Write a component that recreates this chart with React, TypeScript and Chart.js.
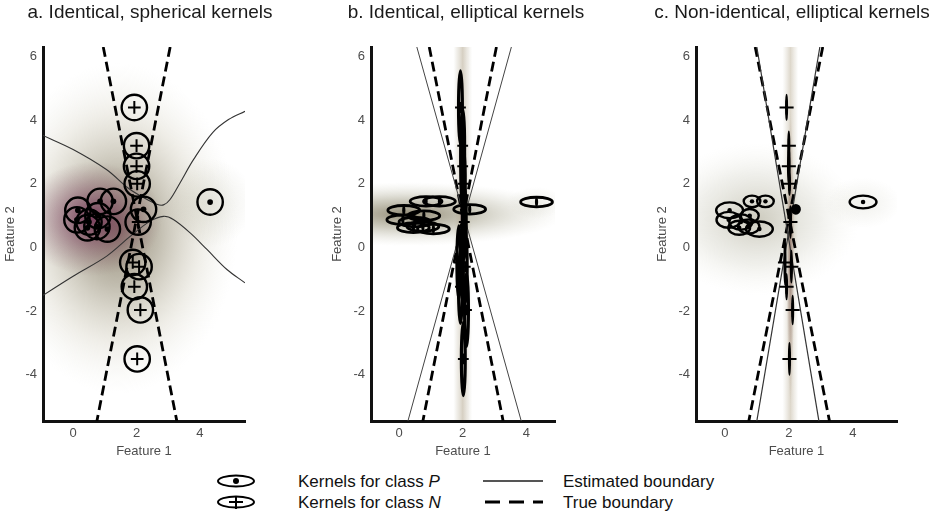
import { useEffect, useRef } from "react";
import { Chart, registerables } from "chart.js";

Chart.register(...registerables);

type Pt = [number, number];

// ---- Data -----------------------------------------------------------------

const panelTitles = [
  "a. Identical, spherical kernels",
  "b. Identical, elliptical kernels",
  "c. Non-identical, elliptical kernels",
];

const xTicks = [0, 2, 4];
const yTicks = [-4, -2, 0, 2, 4, 6];

// Kernel centres (Feature 1, Feature 2)
const classPCentres: Pt[] = [
  [0.15, 1.17], [0.85, 1.45], [1.27, 1.45], [0.12, 0.87], [0.5, 0.8],
  [0.78, 1.0], [0.75, 0.66], [1.08, 0.58], [0.45, 0.62], [2.22, 1.2], [4.32, 1.43],
];
const classNCentres: Pt[] = [
  [1.93, 4.4], [2.0, 3.2], [2.0, 2.55], [2.02, 2.0], [2.05, 0.8],
  [1.88, -0.47], [2.08, -0.6], [1.93, -1.23], [2.12, -1.96], [2.02, -3.5],
];

// Kernel semi-axes (feature units)
const sphericalRadius = 0.4;
const ellipticalP: Pt = [0.5, 0.15];
const ellipticalN: Pt = [0.06, 1.15];
const nonIdenticalP: Pt[] = [
  [0.42, 0.25], [0.26, 0.18], [0.26, 0.18], [0.38, 0.25], [0.36, 0.24],
  [0.28, 0.21], [0.33, 0.22], [0.42, 0.24], [0.34, 0.22], [0.12, 0.13], [0.42, 0.2],
];
const nonIdenticalN: Pt[] = [
  [0.02, 0.4], [0.02, 0.45], [0.03, 0.55], [0.02, 0.35], [0.02, 0.5],
  [0.02, 0.7], [0.02, 0.5], [0.02, 0.4], [0.02, 0.45], [0.02, 0.5],
];

// True class boundary: two crossing lines
const trueBoundary1: Pt[] = [[0.95, 6.3], [3.27, -5.45]];
const trueBoundary2: Pt[] = [[3.06, 6.3], [0.75, -5.45]];

// Estimated boundaries
const estimatedA1: Pt[] = [
  [-0.95, 3.52], [0, 3.08], [1.05, 2.45], [1.73, 1.87], [2.2, 1.58], [2.64, 1.36],
  [2.85, 1.34], [3.05, 1.5], [3.37, 2.03], [3.8, 2.77], [4.4, 3.61], [4.9, 4.02], [5.42, 4.28],
];
const estimatedA2: Pt[] = [
  [-0.95, -1.5], [0, -0.9], [1.06, -0.27], [1.8, 0.35], [2.43, 0.83], [2.85, 0.98],
  [3.16, 0.88], [3.69, 0.46], [4.22, -0.06], [4.85, -0.69], [5.42, -1.11],
];
const estimatedB1: Pt[] = [[0.56, 6.3], [3.84, -5.45]];
const estimatedB2: Pt[] = [[3.53, 6.3], [0.28, -5.45]];
const estimatedC1: Pt[] = [[1.0, 6.3], [2.94, -5.45]];
const estimatedC2: Pt[] = [[2.97, 6.3], [1.0, -5.45]];

// ---- Drawing helpers --------------------------------------------------------

const FONT = "'Liberation Sans', Arial, Helvetica, sans-serif";

type Glow =
  | { kind: "spot"; cx: number; cy: number; rx: number; ry: number; stops: [number, string][] }
  | { kind: "band"; cx: number; half: number; stops: [number, string][] };

type KernelStyle = {
  sizes: Pt[];
  lineWidth: number;
  mark: "dot" | "plus";
  dot?: Pt;
  arm?: Pt;
  solidBelow?: number; // kernels narrower than this are drawn filled
};

function unitPx(chart: any) {
  const { x, y } = chart.scales;
  return {
    ux: x.getPixelForValue(1) - x.getPixelForValue(0),
    uy: y.getPixelForValue(0) - y.getPixelForValue(1),
  };
}

function paintGlows(chart: any, glows: Glow[]) {
  const { ctx, chartArea: a, scales } = chart;
  const { ux, uy } = unitPx(chart);
  ctx.save();
  ctx.beginPath();
  ctx.rect(a.left, a.top, a.right - a.left, a.bottom - a.top);
  ctx.clip();
  for (const g of glows) {
    const px = scales.x.getPixelForValue(g.cx);
    if (g.kind === "band") {
      const w = g.half * ux;
      const grad = ctx.createLinearGradient(px - w, 0, px + w, 0);
      g.stops.forEach(([o, c]) => {
        grad.addColorStop(0.5 - o / 2, c);
        grad.addColorStop(0.5 + o / 2, c);
      });
      ctx.fillStyle = grad;
      ctx.fillRect(px - w, a.top, 2 * w, a.bottom - a.top);
    } else {
      const py = scales.y.getPixelForValue(g.cy);
      ctx.save();
      ctx.translate(px, py);
      ctx.scale(g.rx * ux, g.ry * uy);
      const grad = ctx.createRadialGradient(0, 0, 0, 0, 0, 1);
      g.stops.forEach(([o, c]) => grad.addColorStop(o, c));
      ctx.fillStyle = grad;
      ctx.fillRect(-1, -1, 2, 2);
      ctx.restore();
    }
  }
  ctx.restore();
}

function drawKernels(chart: any) {
  const { ctx, chartArea: a } = chart;
  const { ux, uy } = unitPx(chart);
  ctx.save();
  ctx.beginPath();
  ctx.rect(a.left, a.top, a.right - a.left, a.bottom - a.top);
  ctx.clip();
  ctx.strokeStyle = "#000";
  ctx.fillStyle = "#000";
  chart.data.datasets.forEach((ds: any, di: number) => {
    const k: KernelStyle | undefined = ds.kernel;
    if (!k) return;
    const meta = chart.getDatasetMeta(di);
    meta.data.forEach((el: any, i: number) => {
      const [sx, sy] = k.sizes[i];
      const cx = el.x;
      const cy = el.y;
      ctx.lineWidth = k.lineWidth;
      ctx.beginPath();
      ctx.ellipse(cx, cy, Math.max(sx * ux, 0.3), Math.max(sy * uy, 0.3), 0, 0, Math.PI * 2);
      ctx.stroke();
      if (k.solidBelow && sx < k.solidBelow) ctx.fill();
      if (k.mark === "dot" && k.dot) {
        ctx.beginPath();
        ctx.ellipse(cx, cy, k.dot[0] * ux, k.dot[1] * uy, 0, 0, Math.PI * 2);
        ctx.fill();
      } else if (k.arm) {
        ctx.lineWidth = 2;
        ctx.beginPath();
        ctx.moveTo(cx - k.arm[0] * ux, cy);
        ctx.lineTo(cx + k.arm[0] * ux, cy);
        ctx.moveTo(cx, cy - k.arm[1] * uy);
        ctx.lineTo(cx, cy + k.arm[1] * uy);
        ctx.stroke();
      }
    });
  });
  ctx.restore();
}

const toXY = (pts: Pt[]) => pts.map(([x, y]) => ({ x, y }));

function boundary(pts: Pt[], kind: "true" | "estimated", color = "#333", width = 1.1, tension = 0) {
  return kind === "true"
    ? {
        data: toXY(pts),
        showLine: true,
        pointRadius: 0,
        borderColor: "#000",
        borderWidth: 2.8,
        borderDash: [10, 5],
        tension: 0,
      }
    : {
        data: toXY(pts),
        showLine: true,
        pointRadius: 0,
        borderColor: color,
        borderWidth: width,
        tension,
      };
}

function kernelSet(centres: Pt[], style: KernelStyle) {
  return { data: toXY(centres), pointRadius: 0, showLine: false, kernel: style };
}

type PanelSpec = {
  title: string;
  titleX: number;
  left: number;
  width: number;
  areaLeft: number;
  areaRight: number;
  yTitleX: number;
  xMin: number;
  xMax: number;
  glows: Glow[];
  datasets: any[];
};

const panels: PanelSpec[] = [
  {
    title: panelTitles[0],
    titleX: 150,
    left: 0,
    width: 300,
    areaLeft: 43,
    areaRight: 245,
    yTitleX: 10.5,
    xMin: -0.95,
    xMax: 5.42,
    glows: [
      { kind: "spot", cx: 1.4, cy: 0.6, rx: 3.8, ry: 5.2, stops: [[0, "rgba(95,80,55,0.72)"], [0.35, "rgba(120,110,80,0.45)"], [0.7, "rgba(170,162,130,0.18)"], [1, "rgba(210,210,195,0)"]] },
      { kind: "spot", cx: 0.6, cy: 0.9, rx: 2.2, ry: 1.8, stops: [[0, "rgba(110,40,80,0.8)"], [0.45, "rgba(120,60,90,0.45)"], [1, "rgba(130,90,100,0)"]] },
      { kind: "spot", cx: 4.3, cy: 1.4, rx: 1.4, ry: 1.4, stops: [[0, "rgba(150,150,120,0.2)"], [1, "rgba(150,150,120,0)"]] },
    ],
    datasets: [
      boundary(estimatedA1, "estimated", "#333", 1.1, 0.35),
      boundary(estimatedA2, "estimated", "#333", 1.1, 0.35),
      boundary(trueBoundary1, "true"),
      boundary(trueBoundary2, "true"),
      kernelSet(classPCentres, { sizes: classPCentres.map(() => [sphericalRadius, sphericalRadius] as Pt), lineWidth: 2.4, mark: "dot", dot: [0.09, 0.09] }),
      kernelSet(classNCentres, { sizes: classNCentres.map(() => [sphericalRadius, sphericalRadius] as Pt), lineWidth: 2.4, mark: "plus", arm: [0.2, 0.2] }),
    ],
  },
  {
    title: panelTitles[1],
    titleX: 466,
    left: 310,
    width: 300,
    areaLeft: 371,
    areaRight: 555,
    yTitleX: 337,
    xMin: -0.88,
    xMax: 4.9,
    glows: [
      { kind: "spot", cx: 0.3, cy: 1.05, rx: 4.9, ry: 1.0, stops: [[0, "rgba(100,90,60,0.7)"], [0.45, "rgba(135,130,100,0.4)"], [1, "rgba(200,200,180,0)"]] },
      { kind: "spot", cx: 4.3, cy: 1.4, rx: 0.9, ry: 0.5, stops: [[0, "rgba(150,150,120,0.15)"], [1, "rgba(150,150,120,0)"]] },
      { kind: "band", cx: 2.0, half: 0.3, stops: [[0, "rgba(165,150,120,0.45)"], [0.6, "rgba(180,170,145,0.2)"], [1, "rgba(200,200,180,0)"]] },
      { kind: "spot", cx: 2.0, cy: 0.9, rx: 0.09, ry: 1.9, stops: [[0, "rgba(170,100,130,0.75)"], [1, "rgba(170,100,130,0)"]] },
    ],
    datasets: [
      boundary(estimatedB1, "estimated", "#444", 1),
      boundary(estimatedB2, "estimated", "#444", 1),
      boundary(trueBoundary1, "true"),
      boundary(trueBoundary2, "true"),
      kernelSet(classPCentres, { sizes: classPCentres.map(() => ellipticalP), lineWidth: 2.8, mark: "dot", dot: [0.05, 0.15] }),
      kernelSet(classNCentres, { sizes: classNCentres.map(() => ellipticalN), lineWidth: 3.2, mark: "plus", arm: [0.17, 0.17] }),
    ],
  },
  {
    title: panelTitles[2],
    titleX: 792,
    left: 630,
    width: 315,
    areaLeft: 696,
    areaRight: 897,
    yTitleX: 662,
    xMin: -0.9,
    xMax: 5.38,
    glows: [
      { kind: "spot", cx: 1.0, cy: 0.9, rx: 3.2, ry: 2.4, stops: [[0, "rgba(135,130,100,0.42)"], [0.6, "rgba(165,165,140,0.17)"], [1, "rgba(220,220,200,0)"]] },
      { kind: "spot", cx: 4.3, cy: 1.4, rx: 1.2, ry: 0.8, stops: [[0, "rgba(160,160,130,0.15)"], [1, "rgba(160,160,130,0)"]] },
      { kind: "band", cx: 2.05, half: 0.25, stops: [[0, "rgba(170,155,125,0.4)"], [0.6, "rgba(185,175,150,0.18)"], [1, "rgba(200,200,180,0)"]] },
      { kind: "spot", cx: 2.05, cy: -0.3, rx: 0.12, ry: 4.6, stops: [[0, "rgba(115,75,65,0.6)"], [0.6, "rgba(140,110,95,0.3)"], [1, "rgba(160,140,120,0)"]] },
    ],
    datasets: [
      boundary(estimatedC1, "estimated", "#333", 1.2),
      boundary(estimatedC2, "estimated", "#333", 1.2),
      boundary(trueBoundary1, "true"),
      boundary(trueBoundary2, "true"),
      kernelSet(classPCentres, { sizes: nonIdenticalP, lineWidth: 2.4, mark: "dot", dot: [0.07, 0.07], solidBelow: 0.15 }),
      kernelSet(classNCentres, { sizes: nonIdenticalN, lineWidth: 1.8, mark: "plus", arm: [0.22, 0.22] }),
    ],
  },
];

const CANVAS_H = 460;
const AREA_TOP = 47;
const X_AXIS_H = 38;
const PAD_BOTTOM = 1;
const TICK_FONT = { family: FONT, size: 13 };
const HALF_TITLE_LINE = (13 * 1.2) / 2;

function buildConfig(p: PanelSpec): any {
  const padLeft = p.yTitleX - HALF_TITLE_LINE - p.left;
  const yWidth = p.areaLeft - p.left - padLeft;
  const padRight = p.left + p.width - p.areaRight;
  return {
    type: "scatter",
    data: { datasets: p.datasets },
    options: {
      responsive: false,
      animation: false,
      events: [],
      layout: { padding: { left: padLeft, right: padRight, top: AREA_TOP, bottom: PAD_BOTTOM } },
      plugins: { legend: { display: false }, tooltip: { enabled: false }, title: { display: false } },
      scales: {
        x: {
          type: "linear",
          position: "bottom",
          min: p.xMin,
          max: p.xMax,
          grid: { display: false, drawTicks: false },
          border: { display: true, color: "#111", width: 3 },
          ticks: { font: TICK_FONT, color: "#4d4d4d", padding: 5 },
          afterBuildTicks: (s: any) => {
            s.ticks = xTicks.map((v) => ({ value: v }));
          },
          afterFit: (s: any) => {
            s.height = X_AXIS_H;
          },
          title: { display: true, text: "Feature 1", font: TICK_FONT, color: "#4d4d4d", padding: { top: 0, bottom: 0 } },
        },
        y: {
          type: "linear",
          position: "left",
          min: -5.45,
          max: 6.3,
          grid: { display: false, drawTicks: false },
          border: { display: true, color: "#111", width: 3 },
          ticks: { font: TICK_FONT, color: "#4d4d4d", padding: 6 },
          afterBuildTicks: (s: any) => {
            s.ticks = yTicks.map((v) => ({ value: v }));
          },
          afterFit: (s: any) => {
            s.width = yWidth;
          },
          title: { display: true, text: "Feature 2", font: TICK_FONT, color: "#4d4d4d", padding: { top: 0, bottom: 0 } },
        },
      },
    },
    plugins: [
      {
        id: "glow",
        beforeDraw: (chart: any) => paintGlows(chart, p.glows),
      },
      {
        id: "kernels",
        afterDatasetsDraw: (chart: any) => drawKernels(chart),
      },
      {
        id: "heading",
        afterDraw: (chart: any) => {
          const ctx = chart.ctx;
          ctx.save();
          ctx.font = `19px ${FONT}`;
          ctx.fillStyle = "#1a1a1a";
          ctx.textAlign = "center";
          ctx.textBaseline = "middle";
          ctx.fillText(p.title, p.titleX - p.left, 13);
          ctx.restore();
        },
      },
    ],
  };
}

function Panel({ spec }: { spec: PanelSpec }) {
  const ref = useRef<HTMLCanvasElement>(null);
  useEffect(() => {
    const chart = new Chart(ref.current as HTMLCanvasElement, buildConfig(spec));
    return () => chart.destroy();
  }, [spec]);
  return (
    <canvas
      ref={ref}
      width={spec.width}
      height={CANVAS_H}
      style={{ position: "absolute", left: spec.left, top: 0, width: spec.width, height: CANVAS_H }}
    />
  );
}

function Legend() {
  const text = { fontFamily: FONT, fontSize: 17, fill: "#111" } as const;
  return (
    <svg width={945} height={64} style={{ position: "absolute", left: 0, top: 460 }}>
      <ellipse cx={236} cy={21} rx={18} ry={5.5} fill="none" stroke="#000" strokeWidth={2} />
      <circle cx={236} cy={21} r={3} fill="#000" />
      <ellipse cx={236} cy={42} rx={18} ry={5.5} fill="none" stroke="#000" strokeWidth={2} />
      <line x1={229} x2={243} y1={42} y2={42} stroke="#000" strokeWidth={2} />
      <line x1={236} x2={236} y1={36} y2={49} stroke="#000" strokeWidth={2} />
      <text x={298} y={21} dominantBaseline="central" {...text}>
        Kernels for class <tspan fontStyle="italic">P</tspan>
      </text>
      <text x={298} y={42} dominantBaseline="central" {...text}>
        Kernels for class <tspan fontStyle="italic">N</tspan>
      </text>
      <line x1={483} x2={543} y1={21} y2={21} stroke="#555" strokeWidth={2} />
      <line x1={485} x2={543} y1={42} y2={42} stroke="#000" strokeWidth={3} strokeDasharray="15 9" />
      <text x={563} y={21} dominantBaseline="central" {...text}>
        Estimated boundary
      </text>
      <text x={563} y={42} dominantBaseline="central" {...text}>
        True boundary
      </text>
    </svg>
  );
}

export default function App() {
  return (
    <div style={{ position: "absolute", left: 0, top: 0, width: 945, height: 524, background: "#fff", overflow: "hidden" }}>
      {panels.map((p) => (
        <Panel key={p.title} spec={p} />
      ))}
      <Legend />
    </div>
  );
}
